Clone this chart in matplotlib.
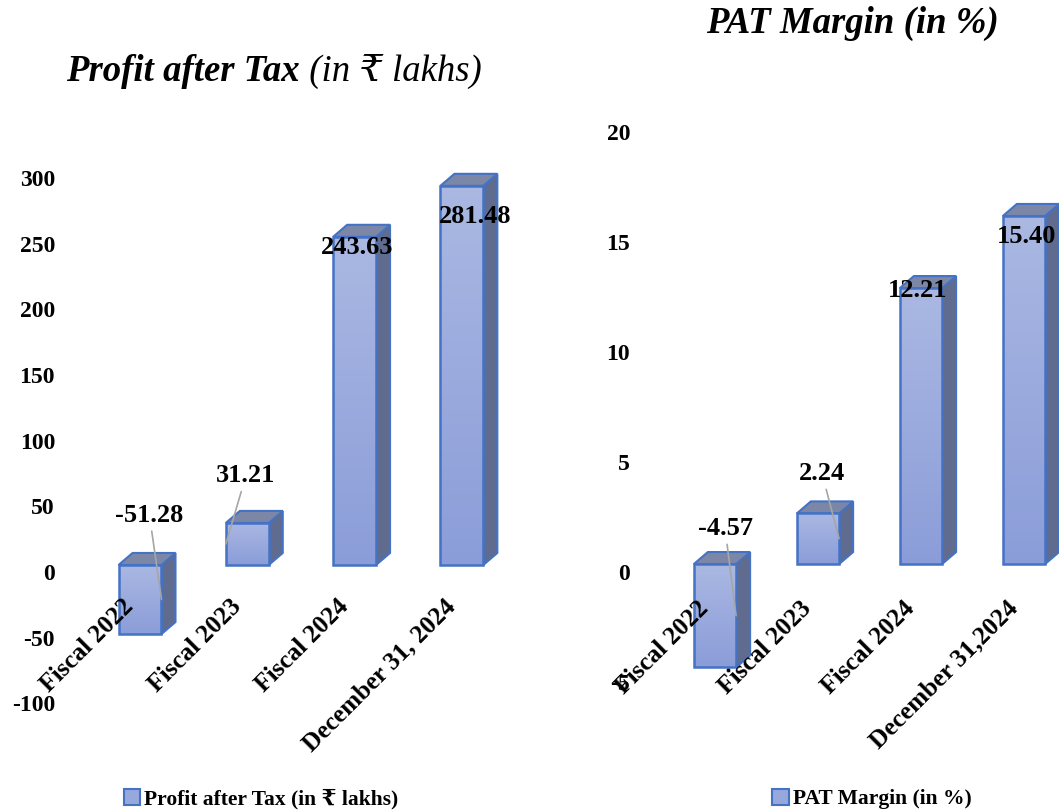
import numpy as np
import matplotlib
matplotlib.use("Agg")
import matplotlib.pyplot as plt
import matplotlib.transforms as mtransforms
from matplotlib.patches import Polygon, Rectangle, Patch
from matplotlib.colors import LinearSegmentedColormap

# data
categories = ['Fiscal 2022', 'Fiscal 2023', 'Fiscal 2024', 'December 31, 2024']
categories_margin = ['Fiscal 2022', 'Fiscal 2023', 'Fiscal 2024', 'December 31,2024']
pat = [-51.28, 31.21, 243.63, 281.48]
pat_margin = [-4.57, 2.24, 12.21, 15.40]
pat_ticks = [-100, -50, 0, 50, 100, 150, 200, 250, 300]
margin_ticks = [-5, 0, 5, 10, 15, 20]

plt.rcParams['font.family'] = ['Liberation Serif', 'DejaVu Serif']
plt.rcParams['font.weight'] = 'bold'

W, H = 1059, 811
fig = plt.figure(figsize=(W / 100, H / 100), dpi=100)

front_cmap = LinearSegmentedColormap.from_list('front', ['#AAB8E2', '#8B9DD9'])
side_col = '#5F6C8F'
top_col = '#7C87A8'
edge_col = '#4472C4'
lead_col = '#A6A6A6'


def px_rect(x0, x1, y_top, y_bot):
    # pixel box (image coords) -> figure fraction rect
    return [x0 / W, (H - y_bot) / H, (x1 - x0) / W, (y_bot - y_top) / H]


def bars_3d(ax, values, width, depth=(14, 12)):
    inv = ax.transData.inverted()
    p0 = ax.transData.transform((0, 0))
    dx, dy = inv.transform(p0 + np.array(depth))
    grad = np.linspace(0, 1, 256).reshape(-1, 1)
    for i, v in enumerate(values):
        x0, x1 = i - width / 2, i + width / 2
        lo, hi = min(0, v), max(0, v)
        side = Polygon([(x1, lo), (x1, hi), (x1 + dx, hi + dy), (x1 + dx, lo + dy)],
                       closed=True, facecolor=side_col, edgecolor=edge_col, lw=1.5, zorder=2)
        top = Polygon([(x0, hi), (x1, hi), (x1 + dx, hi + dy), (x0 + dx, hi + dy)],
                      closed=True, facecolor=top_col, edgecolor=edge_col, lw=1.5, zorder=2)
        ax.add_patch(side)
        ax.add_patch(top)
        rect = Rectangle((x0, lo), width, hi - lo, facecolor='none', edgecolor=edge_col,
                         lw=1.8, zorder=4)
        ax.add_patch(rect)
        im = ax.imshow(grad, extent=[x0, x1, lo, hi], origin='upper', cmap=front_cmap,
                       aspect='auto', zorder=3)
        im.set_clip_path(rect)


def panel(rect, xlim, ylim, tick_ylim, ticks, pad, values, cats, width, label_specs, xpad):
    # axes that only carries the value tick labels
    tax = fig.add_axes(rect)
    tax.set_ylim(*tick_ylim)
    tax.set_yticks(ticks)
    tax.set_yticklabels([str(t) for t in ticks])
    tax.tick_params(axis='y', length=0, pad=pad, labelsize=17)
    tax.set_xticks([])
    for s in tax.spines.values():
        s.set_visible(False)
    tax.patch.set_visible(False)

    ax = fig.add_axes(rect)
    ax.set_xlim(*xlim)
    ax.set_ylim(*ylim)
    ax.patch.set_visible(False)
    for s in ax.spines.values():
        s.set_visible(False)
    ax.spines['bottom'].set_position(('data', 0))
    ax.set_yticks([])
    ax.set_xticks(range(len(cats)))
    ax.set_xticklabels(cats)
    ax.xaxis.set_zorder(10)
    ax.tick_params(axis='x', length=0, pad=xpad, labelsize=18.3)
    shift = mtransforms.ScaledTranslation(-18 / 100, 0, fig.dpi_scale_trans)
    for lab in ax.get_xticklabels():
        lab.set_rotation(45)
        lab.set_ha('right')
        lab.set_va('top')
        lab.set_rotation_mode('anchor')
        lab.set_transform(lab.get_transform() + shift)

    bars_3d(ax, values, width)
    ax.set_xlim(*xlim)
    ax.set_ylim(*ylim)

    for i, v in enumerate(values):
        where, off, lead = label_specs[i]
        if where == 'right':
            xy = (i + width / 2, v / 2)
        elif where == 'left':
            xy = (i - width / 2, v / 2)
        else:
            xy = (i, v)
        arrow = dict(arrowstyle='-', color=lead_col, lw=1.2, shrinkA=1, shrinkB=0) if lead else None
        ax.annotate(f'{v:.2f}', xy=xy, xytext=off, textcoords='offset pixels',
                    ha='center', va='center', fontsize=19, fontweight='bold',
                    arrowprops=arrow, zorder=6)
    return ax


# left panel: Profit after Tax
panel(px_rect(85, 530, 100, 720), (-0.513, 3.635), (-115.1, 345.2), (-112.6, 359.2),
      pat_ticks, 21.6, pat, categories, 0.40,
      [('right', (-12, 84), True), ('left', (20, 68), True),
       ('top', (2, -11), False), ('top', (13, -31), False)], 21.5)

# right panel: PAT Margin
panel(px_rect(640, 1059, 100, 720), (-0.728, 3.34), (-6.9, 20.53), (-6.73, 21.45),
      margin_ticks, 7.2, pat_margin, categories_margin, 0.41,
      [('right', (-11, 87), True), ('right', (-17, 65), True),
       ('top', (-3, -2), False), ('top', (3, -21), False)], 23.5)

# titles
t1 = fig.text(66 / W, 1 - 81 / H, 'Profit after Tax', fontsize=26.5, fontweight='bold',
              fontstyle='italic', ha='left', va='baseline')
fig.text(706 / W, 1 - 33 / H, 'PAT Margin (in %)', fontsize=26.5, fontweight='bold',
         fontstyle='italic', ha='left', va='baseline')

# legends
handle = Patch(facecolor='#97A8DD', edgecolor=edge_col, lw=1.5)
leg_kw = dict(loc='center', frameon=False, fontsize=15.5, handlelength=0.75,
              handleheight=0.75, handletextpad=0.2, borderpad=0)
fig.legend([handle], ['Profit after Tax (in \u20b9 lakhs)'],
           bbox_to_anchor=(261 / W, 1 - 799 / H), **leg_kw)
fig.legend([handle], ['PAT Margin (in %)'],
           bbox_to_anchor=(872 / W, 1 - 799 / H), **leg_kw)

# second half of the left title is not bold, so it follows the first part
fig.canvas.draw()
bb = t1.get_window_extent()
fig.text(bb.x1 / W, 1 - 81 / H, ' (in \u20b9 lakhs)', fontsize=26.5, fontweight='normal',
         fontstyle='italic', ha='left', va='baseline')

fig.savefig('out.png', dpi=100)
